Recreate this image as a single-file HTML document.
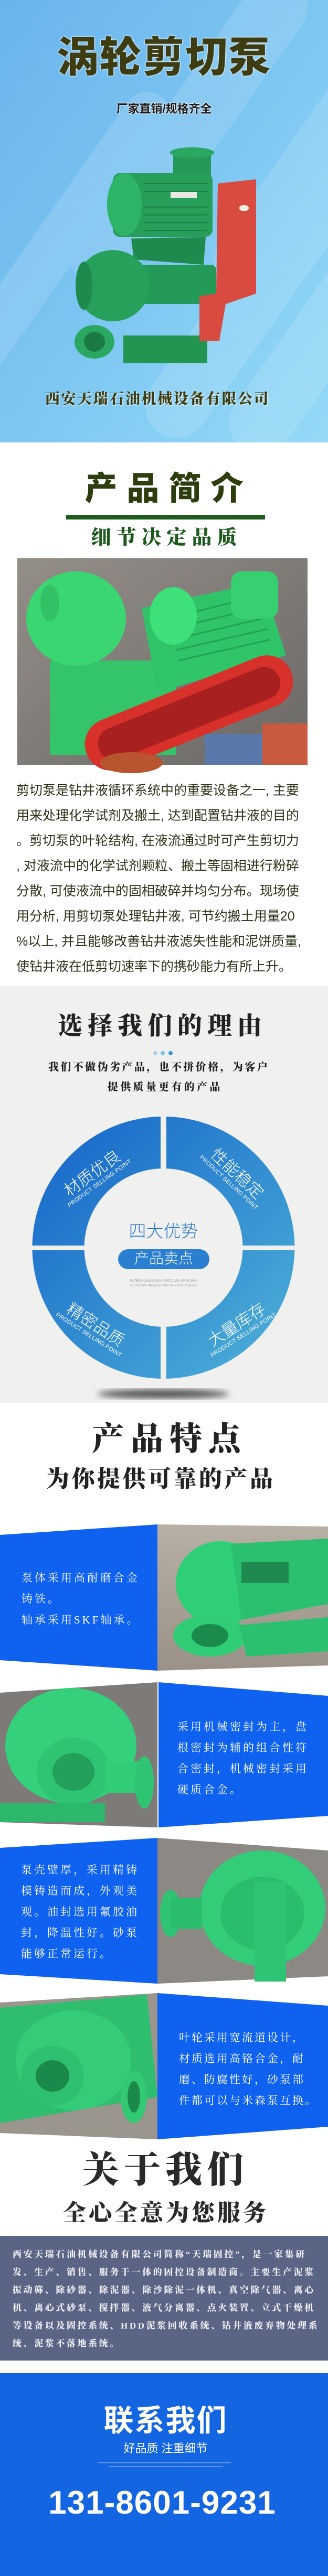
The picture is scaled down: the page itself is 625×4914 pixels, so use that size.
<!DOCTYPE html>
<html><head><meta charset="utf-8">
<style>
*{margin:0;padding:0;box-sizing:border-box}
body{width:625px;height:4914px;position:relative;overflow:hidden;background:#fff;font-family:"Liberation Sans","Noto Sans CJK SC",sans-serif}
.t{position:absolute;white-space:nowrap;line-height:1}
.cal{font-family:"Liberation Serif","Noto Serif CJK SC",serif;font-weight:900}
.sans{font-family:"Liberation Sans","Noto Sans CJK SC",sans-serif}
.c{text-align:center}
.ring{position:absolute;transform:translate(-50%,-50%);color:#fff;text-align:center;white-space:nowrap}
.ring b{display:block;font-weight:300;font-size:31px;line-height:34px;font-family:"Liberation Sans","Noto Sans CJK SC",sans-serif}
.ring i{display:block;font-style:normal;font-size:11px;line-height:13px;letter-spacing:0.3px}
.ft{position:absolute;color:#fff;font-family:"Liberation Serif","Noto Serif CJK SC",serif;font-size:21px;letter-spacing:4px;line-height:40px;white-space:nowrap}
</style></head><body>
<svg width="625" height="4914" style="position:absolute;left:0;top:0" xmlns="http://www.w3.org/2000/svg">
<defs>
<linearGradient id="hero" x1="0" y1="0" x2="1" y2="1"><stop offset="0" stop-color="#6ab4ee"/><stop offset="0.5" stop-color="#7cc6f2"/><stop offset="1" stop-color="#94daf6"/></linearGradient>
<linearGradient id="ringg" x1="0" y1="0" x2="1" y2="1"><stop offset="0" stop-color="#1463c9"/><stop offset="1" stop-color="#4fb3d8"/></linearGradient>
<linearGradient id="floor" x1="0" y1="0" x2="1" y2="1"><stop offset="0" stop-color="#948e88"/><stop offset="1" stop-color="#6a6866"/></linearGradient>
<linearGradient id="floor2" x1="0" y1="0" x2="0" y2="1"><stop offset="0" stop-color="#b8b0a4"/><stop offset="1" stop-color="#9a9288"/></linearGradient>
<filter id="blur"><feGaussianBlur stdDeviation="6"/></filter>
<filter id="blur2"><feGaussianBlur stdDeviation="2"/></filter>
<clipPath id="ringclip"><path d="M311.5,2130 a250,250 0 1,1 -0.1,0 Z M311.5,2229 a151,151 0 1,0 0.1,0 Z" fill-rule="evenodd"/></clipPath>
</defs>
<!-- HERO -->
<rect x="0" y="0" width="625" height="844" fill="url(#hero)"/>
<g fill="#fff" opacity="0.13">
<rect x="300" y="-100" width="120" height="700" rx="60" transform="rotate(35 360 250)"/>
<rect x="520" y="80" width="130" height="520" rx="65" transform="rotate(35 585 340)"/>
<rect x="420" y="260" width="120" height="620" rx="60" transform="rotate(35 480 570)"/>
<rect x="540" y="420" width="120" height="480" rx="60" transform="rotate(35 600 660)"/>
<rect x="60" y="120" width="90" height="700" rx="45" transform="rotate(35 105 470)"/>
</g>
<!-- hero pump -->
<g>
<rect x="235" y="640" width="160" height="53" fill="#229552"/>
<polygon points="250,455 392,452 388,505 255,495" fill="#1f8a4e"/>
<rect x="330" y="290" width="72" height="62" fill="#24995a"/>
<ellipse cx="366" cy="291" rx="42" ry="10" fill="#2aa862"/>
<rect x="215" y="330" width="190" height="122" rx="14" fill="#279f5b"/>
<g stroke="#1c7e46" stroke-width="2"><line x1="275" y1="350" x2="395" y2="350"/><line x1="275" y1="365" x2="395" y2="365"/><line x1="275" y1="395" x2="395" y2="395"/><line x1="275" y1="410" x2="395" y2="410"/><line x1="275" y1="425" x2="395" y2="425"/><line x1="275" y1="440" x2="395" y2="440"/></g>
<ellipse cx="237" cy="390" rx="33" ry="60" fill="#2db468"/>
<rect x="325" y="366" width="50" height="12" fill="#e8e8e0"/>
<rect x="240" y="505" width="172" height="75" rx="10" fill="#249a58"/>
<ellipse cx="215" cy="545" rx="70" ry="68" fill="#27a05b"/>
<ellipse cx="160" cy="545" rx="16" ry="46" fill="#1f8a4e"/>
<polygon points="415,350 488,342 488,560 430,580 418,650 380,650 380,565 412,560" fill="#d94a40"/>
<ellipse cx="465" cy="397" rx="9" ry="6" fill="#f4eee0"/>
<ellipse cx="180" cy="652" rx="38" ry="32" fill="#2aa862"/>
<ellipse cx="180" cy="652" rx="20" ry="19" fill="#1a7a44"/>
</g>
<!-- intro section -->
<rect x="126" y="982" width="379" height="9" fill="#1e5c1e"/>
<!-- photo 1 -->
<rect x="33" y="1065" width="553" height="394" fill="url(#floor)"/>
<g>
<rect x="95" y="1260" width="240" height="180" fill="#34c46a"/>
<ellipse cx="145" cy="1180" rx="95" ry="90" fill="#3ad672"/>
<ellipse cx="95" cy="1150" rx="18" ry="35" fill="#32c265"/>
<polygon points="270,1160 500,1110 545,1250 300,1320" fill="#2fc468"/>
<g stroke="#22a252" stroke-width="3"><line x1="320" y1="1180" x2="480" y2="1140"/><line x1="325" y1="1200" x2="490" y2="1160"/><line x1="330" y1="1220" x2="500" y2="1180"/><line x1="335" y1="1240" x2="510" y2="1200"/><line x1="340" y1="1260" x2="515" y2="1220"/></g>
<ellipse cx="330" cy="1175" rx="45" ry="55" fill="#3ee07a"/>
<rect x="440" y="1090" width="90" height="90" rx="20" fill="#36d070"/>
<g transform="rotate(-22 360 1360)"><rect x="150" y="1310" width="420" height="100" rx="50" fill="#d8302a"/><rect x="175" y="1330" width="370" height="62" rx="31" fill="#a82020"/></g>
<rect x="500" y="1380" width="86" height="79" fill="#c85a40"/>
<rect x="390" y="1400" width="110" height="59" fill="#5a78aa"/>
<ellipse cx="250" cy="1455" rx="60" ry="20" fill="#b8552e"/>
</g>
<!-- reasons gray bg -->
<rect x="0" y="1881" width="625" height="796" fill="#f0f1ef"/>
<circle cx="296" cy="2009" r="4" fill="#a9d3ec"/>
<circle cx="310" cy="2009" r="4" fill="#7fc0e6"/>
<circle cx="325" cy="2009" r="4" fill="#3a9ad6"/>
<ellipse cx="311" cy="2659" rx="125" ry="9" fill="#555" filter="url(#blur)"/>
<g clip-path="url(#ringclip)">
<rect x="61" y="2130" width="501" height="501" fill="url(#ringg)"/>
<rect x="306" y="2120" width="11" height="520" fill="#f0f1ef"/>
<rect x="50" y="2376" width="525" height="9" fill="#f0f1ef"/>
</g>
<rect x="225" y="2383" width="174" height="38" rx="19" fill="#2a7fd0"/>
<!-- feature blocks -->
<polygon points="0,2928 300,2908 300,3187 0,3167" fill="#0f62f0"/>
<polygon points="300,2908 625,2912 625,3177 300,3187" fill="url(#floor2)"/>
<g>
<ellipse cx="420" cy="3020" rx="85" ry="80" fill="#2fcf78"/>
<polygon points="440,2945 625,2935 625,3060 460,3090" fill="#2bc070"/>
<rect x="460" y="2980" width="90" height="40" fill="#1e8a50"/>
<ellipse cx="400" cy="3120" rx="70" ry="40" fill="#30cc76"/>
<ellipse cx="400" cy="3120" rx="35" ry="22" fill="#1b8a4d"/>
<polygon points="455,3100 625,3085 625,3150 470,3160" fill="#2bc070"/>
</g>
<polygon points="0,3229 300,3209 300,3486 0,3476" fill="#7e7a78"/>
<g>
<ellipse cx="135" cy="3330" rx="125" ry="110" fill="#34d07c"/>
<ellipse cx="140" cy="3380" rx="70" ry="65" fill="#2fc474"/>
<ellipse cx="140" cy="3380" rx="40" ry="36" fill="#23a05c"/>
<rect x="200" y="3360" width="80" height="60" fill="#32cc78"/>
<ellipse cx="275" cy="3400" rx="18" ry="50" fill="#2fc474"/>
<rect x="0" y="3440" width="200" height="36" fill="#2bb86c"/>
</g>
<polygon points="302,3209 625,3235 625,3464 302,3486" fill="#0f62f0"/>
<polygon points="0,3525 300,3506 300,3784 0,3766" fill="#0f62f0"/>
<polygon points="300,3506 625,3530 625,3770 300,3784" fill="#8c8884"/>
<g>
<ellipse cx="500" cy="3640" rx="120" ry="110" fill="#33cc78"/>
<ellipse cx="500" cy="3650" rx="80" ry="70" fill="#2bbd6e"/>
<rect x="485" y="3590" width="60" height="190" fill="#2fc474"/>
<ellipse cx="325" cy="3650" rx="20" ry="45" fill="#2fc474"/>
<rect x="325" y="3620" width="60" height="60" fill="#2bbd6e"/>
</g>
<polygon points="0,3820 300,3802 300,4081 0,4069" fill="#9a968e"/>
<g>
<polygon points="0,3830 280,3805 300,4000 0,4050" fill="#2fbd70"/>
<ellipse cx="140" cy="3930" rx="110" ry="95" fill="#34cc78"/>
<ellipse cx="100" cy="3960" rx="60" ry="57" fill="#2fbf70"/>
<ellipse cx="100" cy="3960" rx="32" ry="30" fill="#1a8a4c"/>
<ellipse cx="255" cy="4000" rx="25" ry="50" fill="#33c874"/>
<ellipse cx="255" cy="4000" rx="12" ry="30" fill="#1a8a4c"/>
</g>
<polygon points="300,3802 625,3826 625,4057 300,4081" fill="#0f62f0"/>
<!-- about box -->
<rect x="0" y="4265" width="625" height="238" fill="#5a6484"/>
<rect x="0" y="4527" width="625" height="387" fill="#1465e2"/>
<g stroke="#8fb4f0" stroke-width="2" opacity="0.6"><line x1="187" y1="4698" x2="440" y2="4698"/><line x1="207" y1="4705" x2="425" y2="4705"/></g>
</svg>

<!-- HERO TEXT -->
<div class="t c" style="left:0;width:625px;top:70px;font-size:80px;font-weight:900;color:#3d3c12;letter-spacing:2px;font-family:'Liberation Sans','Noto Sans CJK SC',sans-serif;text-shadow:0 0 3px #fff,0 0 2px #fff">涡轮剪切泵</div>
<div class="t c" style="left:0;width:625px;top:197px;font-size:22px;font-weight:700;color:#1a1a1a;text-shadow:0 0 3px #fff,0 0 2px #fff">厂家直销/规格齐全</div>
<div class="t cal" style="left:86px;top:748px;font-size:28px;letter-spacing:2.6px;color:#3d3c12;text-shadow:1px 1px 2px #fff">西安天瑞石油机械设备有限公司</div>

<!-- INTRO -->
<div class="t c" style="left:0;width:625px;top:902px;font-size:62px;font-weight:900;color:#2d3d0d;letter-spacing:18px;padding-left:18px">产品简介</div>
<div class="t c cal" style="left:0;width:625px;top:1007px;font-size:38px;color:#1e5a1e;letter-spacing:10px;padding-left:10px">细节决定品质</div>
<div class="t" style="left:31px;top:1484px;font-size:25px;line-height:48px;color:#2a3318">剪切泵是钻井液循环系统中的重要设备之一, 主要<br>用来处理化学试剂及搬土, 达到配置钻井液的目的<br>。剪切泵的叶轮结构, 在液流通过时可产生剪切力<br>, 对液流中的化学试剂颗粒、搬土等固相进行粉碎<br>分散, 可使液流中的固相破碎并均匀分布。现场使<br>用分析, 用剪切泵处理钻井液, 可节约搬土用量20<br>%以上, 并且能够改善钻井液滤失性能和泥饼质量,<br>使钻井液在低剪切速率下的携砂能力有所上升。</div>

<!-- REASONS -->
<div class="t cal" style="left:110px;top:1935px;font-size:47px;letter-spacing:10px;color:#222">选择我们的理由</div>
<div class="t cal" style="left:92px;top:2026px;font-size:20px;letter-spacing:3.4px;color:#222">我们不做伪劣产品，也不拼价格，为客户</div>
<div class="t cal" style="left:205px;top:2064px;font-size:20px;letter-spacing:4.3px;color:#222">提供质量更有的产品</div>
<div class="t c" style="left:0;width:623px;top:2332px;font-size:33px;color:#2676c8;font-weight:300">四大优势</div>
<div class="t c" style="left:225px;width:174px;top:2387px;font-size:28px;color:#fff;font-weight:300">产品卖点</div>
<div class="t c" style="left:0;width:623px;top:2440px;font-size:6px;color:#999;line-height:9px">FILTERS 0.5 MICRON PARTICLES UP TO 98%<br>EFFECTIVE PROTECTION OF YOUR ALVEOLI</div>
<div class="ring" style="left:180px;top:2244px;transform:translate(-50%,-50%) rotate(-36deg)"><b>材质优良</b><i>PRODUCT SELLING POINT</i></div>
<div class="ring" style="left:447px;top:2244px;transform:translate(-50%,-50%) rotate(43deg)"><b>性能稳定</b><i>PRODUCT SELLING POINT</i></div>
<div class="ring" style="left:178px;top:2533px;transform:translate(-50%,-50%) rotate(33deg)"><b>精密品质</b><i>PRODUCT SELLING POINT</i></div>
<div class="ring" style="left:455px;top:2533px;transform:translate(-50%,-50%) rotate(-33deg)"><b>大量库存</b><i>PRODUCT SELLING POINT</i></div>

<!-- FEATURES -->
<div class="t cal" style="left:175px;top:2715px;font-size:62px;letter-spacing:12px;color:#222">产品特点</div>
<div class="t cal" style="left:88px;top:2800px;font-size:44px;letter-spacing:4.5px;color:#222">为你提供可靠的产品</div>
<div class="ft" style="left:41px;top:2990px">泵体采用高耐磨合金<br>铸铁。<br>轴承采用SKF轴承。</div>
<div class="ft" style="left:338px;top:3274px">采用机械密封为主，盘<br>根密封为辅的组合性符<br>合密封，机械密封采用<br>硬质合金。</div>
<div class="ft" style="left:40px;top:3547px">泵壳壁厚，采用精铸<br>模铸造而成，外观美<br>观。油封选用氟胶油<br>封，降温性好。砂泵<br>能够正常运行。</div>
<div class="ft" style="left:341px;top:3867px;letter-spacing:3px">叶轮采用宽流道设计，<br>材质选用高铬合金，耐<br>磨、防腐性好，砂泵部<br>件都可以与米森泵互换。</div>

<!-- ABOUT -->
<div class="t cal" style="left:157px;top:4106px;font-size:70px;letter-spacing:9px;color:#2a2a2a">关于我们</div>
<div class="t cal" style="left:120px;top:4200px;font-size:44px;letter-spacing:5px;color:#2a2a2a">全心全意为您服务</div>
<div class="t cal" style="left:24px;top:4284px;font-size:17px;letter-spacing:3.6px;line-height:34px;color:#eeeef4">西安天瑞石油机械设备有限公司简称“天瑞固控”，是一家集研<br>发、生产、销售、服务于一体的固控设备制造商。主要生产泥浆<br>振动筛、除砂器、除泥器、除沙除泥一体机、真空除气器、离心<br>机、离心式砂泵、搅拌器、液气分离器、点火装置、立式干燥机<br>等设备以及固控系统、HDD泥浆回收系统、钻井液废弃物处理系<br>统、泥浆不落地系统。</div>

<!-- CONTACT -->
<div class="t c" style="left:0;width:631px;top:4590px;font-size:57px;font-weight:700;color:#fff;letter-spacing:2px">联系我们</div>
<div class="t c" style="left:0;width:631px;top:4660px;font-size:22px;color:#fff">好品质 注重细节</div>
<div class="t c" style="left:0;width:618px;top:4744px;font-size:62px;font-weight:700;color:#fff;letter-spacing:1px">131-8601-9231</div>
</body></html>
